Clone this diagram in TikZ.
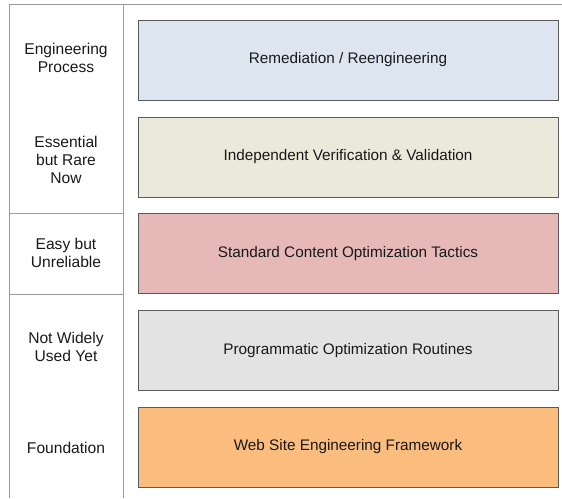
\documentclass[tikz,border=0pt]{standalone}
\usepackage{fontspec}
\setmainfont{Liberation Sans}
\usetikzlibrary{positioning}

\definecolor{framegray}{HTML}{9A9A9A}
\definecolor{boxline}{HTML}{5A5A5A}
\definecolor{remblue}{HTML}{DDE5F1}
\definecolor{ivvgreen}{HTML}{E9EADC}
\definecolor{stdred}{HTML}{E6B8B8}
\definecolor{proggray}{HTML}{E3E3E3}
\definecolor{founorange}{HTML}{FBBD7E}

\tikzset{
  layerbox/.style={draw=boxline, line width=0.9pt, minimum width=420pt, minimum height=80pt,
    inner sep=0pt, font=\fontsize{15.3}{18}\selectfont, text=black!90},
  layerlabel/.style={align=center, font=\fontsize{15.6}{18}\selectfont, text=black!90}
}

\begin{document}
\begin{tikzpicture}[x=1pt,y=-1pt]
\useasboundingbox (0,0) rectangle (562,498);
% frame of the left column
\draw[framegray,line width=1pt](9,498) -- (9,4) -- (562,4);
\draw[framegray,line width=1pt](123,4) -- (123,498);
\draw[framegray,line width=1pt](9,213) -- (123,213);
\draw[framegray,line width=1pt](9,294) -- (123,294);
% layers
\node[layerbox,fill=remblue] (rem) at (348,60) {Remediation / Reengineering};
\node[layerbox,fill=ivvgreen] (ivv) at (348,157) {Independent Verification \& Validation};
\node[layerbox,fill=stdred] (std) at (348,253.5) {Standard Content Optimization Tactics};
\node[layerbox,fill=proggray] (prog) at (348,350.5) {Programmatic Optimization Routines};
\node[layerbox,fill=founorange] (foun) at (348,447) {Web Site Engineering Framework};
% labels
\node[layerlabel] (engproc) at (66,58) {Engineering\\Process};
\node[layerlabel] (essrare) at (66,160) {Essential\\but Rare\\Now};
\node[layerlabel] (easyunrel) at (66,253) {Easy but\\Unreliable};
\node[layerlabel] (notused) at (66,347) {Not Widely\\Used Yet};
\node[layerlabel] (found) at (66,448) {Foundation};
\end{tikzpicture}
\end{document}
